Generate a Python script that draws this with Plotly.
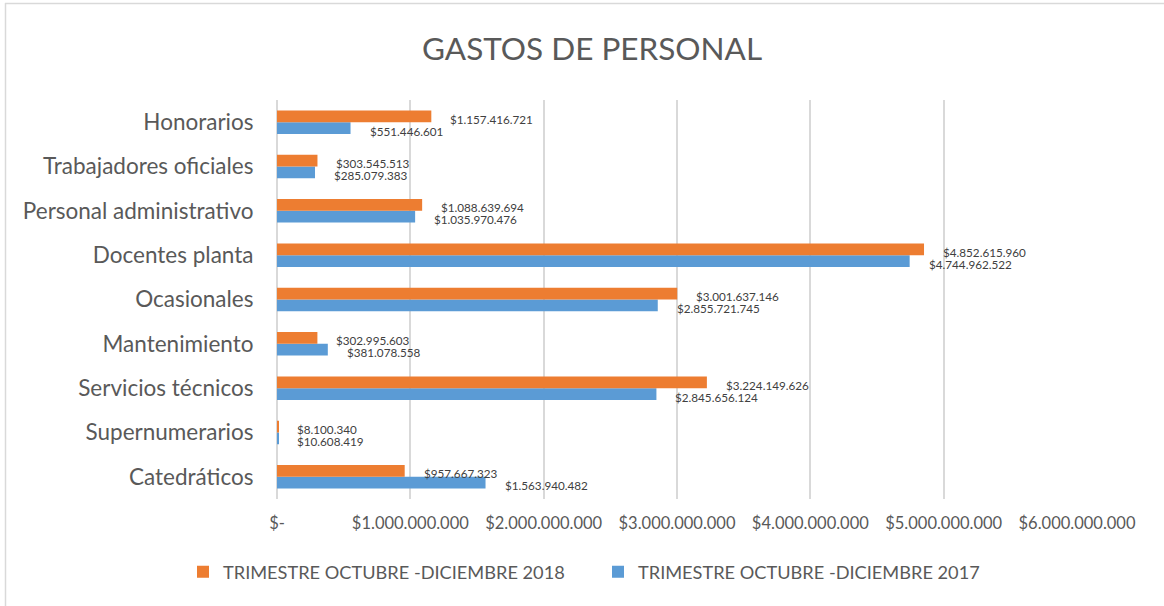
import plotly.graph_objects as go

categories = ["Honorarios", "Trabajadores oficiales", "Personal administrativo",
              "Docentes planta", "Ocasionales", "Mantenimiento",
              "Servicios técnicos", "Supernumerarios", "Catedráticos"]
values_2018 = [1157416721, 303545513, 1088639694, 4852615960, 3001637146,
               302995603, 3224149626, 8100340, 957667323]
values_2017 = [551446601, 285079383, 1035970476, 4744962522, 2855721745,
               381078558, 2845656124, 10608419, 1563940482]
series_names = ["TRIMESTRE OCTUBRE -DICIEMBRE 2018", "TRIMESTRE OCTUBRE -DICIEMBRE 2017"]
tick_values = [0, 1e9, 2e9, 3e9, 4e9, 5e9, 6e9]
tick_labels = ["$-", "$1.000.000.000", "$2.000.000.000", "$3.000.000.000",
               "$4.000.000.000", "$5.000.000.000", "$6.000.000.000"]
title_text = "GASTOS DE PERSONAL"

ORANGE = "#ED7D31"
BLUE = "#5B9BD5"
FONT = "Lato"

L, R, T, B = 277, 87, 100, 107
W, H = 1164, 606
pw, ph = W - L - R, H - T - B


def px_x(p):
    return (p - L) / pw


def px_y(p):
    return (H - B - p) / ph


def fmt(v):
    return "$" + f"{v:,}".replace(",", ".")


fig = go.Figure()
fig.add_trace(go.Bar(y=categories, x=values_2017, orientation="h", name=series_names[1],
                     marker=dict(color=BLUE, line=dict(width=0)), legend="legend2"))
fig.add_trace(go.Bar(y=categories, x=values_2018, orientation="h", name=series_names[0],
                     marker=dict(color=ORANGE, line=dict(width=0)), legend="legend"))

annotations = []
for c, v in zip(categories, values_2018):
    annotations.append(dict(x=v, y=c, xref="x", yref="y", text=fmt(v), showarrow=False,
                            xanchor="left", yanchor="middle", xshift=17, yshift=3.5,
                            font=dict(family=FONT, size=11.7, color="#404040")))
for c, v in zip(categories, values_2017):
    annotations.append(dict(x=v, y=c, xref="x", yref="y", text=fmt(v), showarrow=False,
                            xanchor="left", yanchor="middle", xshift=17, yshift=-8.5,
                            font=dict(family=FONT, size=11.7, color="#404040")))

annotations.append(dict(text=title_text, x=px_x(592), y=px_y(48), xref="paper", yref="paper",
                        showarrow=False, xanchor="center", yanchor="middle",
                        font=dict(family=FONT, size=31.5, color="#595959")))

legend_font = dict(family=FONT, size=18.2, color="#595959")

fig.update_layout(
    width=W, height=H,
    margin=dict(l=L, r=R, t=T, b=B),
    paper_bgcolor="white", plot_bgcolor="white",
    barmode="group", bargap=0.47, bargroupgap=0,
    font=dict(family=FONT, color="#595959"),
    showlegend=True,
    legend=dict(orientation="h", x=px_x(183), y=px_y(572), xanchor="left", yanchor="middle",
                font=legend_font, itemwidth=30, bgcolor="rgba(0,0,0,0)"),
    legend2=dict(orientation="h", x=px_x(598), y=px_y(572), xanchor="left", yanchor="middle",
                 font=legend_font, itemwidth=30, bgcolor="rgba(0,0,0,0)"),
    annotations=annotations,
    shapes=[
        dict(type="line", xref="paper", yref="paper", x0=px_x(5), x1=px_x(1170),
             y0=px_y(3.5), y1=px_y(3.5), line=dict(color="#D9D9D9", width=1.5)),
        dict(type="line", xref="paper", yref="paper", x0=px_x(5.5), x1=px_x(5.5),
             y0=px_y(3), y1=px_y(612), line=dict(color="#D9D9D9", width=1.5)),
    ],
)
fig.update_xaxes(range=[0, 6e9], tickvals=tick_values, ticktext=tick_labels,
                 showgrid=True, gridcolor="#D9D9D9", gridwidth=2,
                 zeroline=True, zerolinecolor="#D9D9D9", zerolinewidth=2,
                 tickfont=dict(family=FONT, size=16.5, color="#595959"),
                 ticks="outside", ticklen=9, tickcolor="rgba(0,0,0,0)", fixedrange=True)
fig.update_yaxes(categoryorder="array", categoryarray=list(reversed(categories)),
                 tickfont=dict(family=FONT, size=22.5, color="#595959"),
                 ticks="outside", ticklen=18, tickcolor="rgba(0,0,0,0)",
                 showgrid=False, fixedrange=True)

fig.write_html("out.html", config={"displayModeBar": False},
               post_script="document.body.style.margin='0px';")
